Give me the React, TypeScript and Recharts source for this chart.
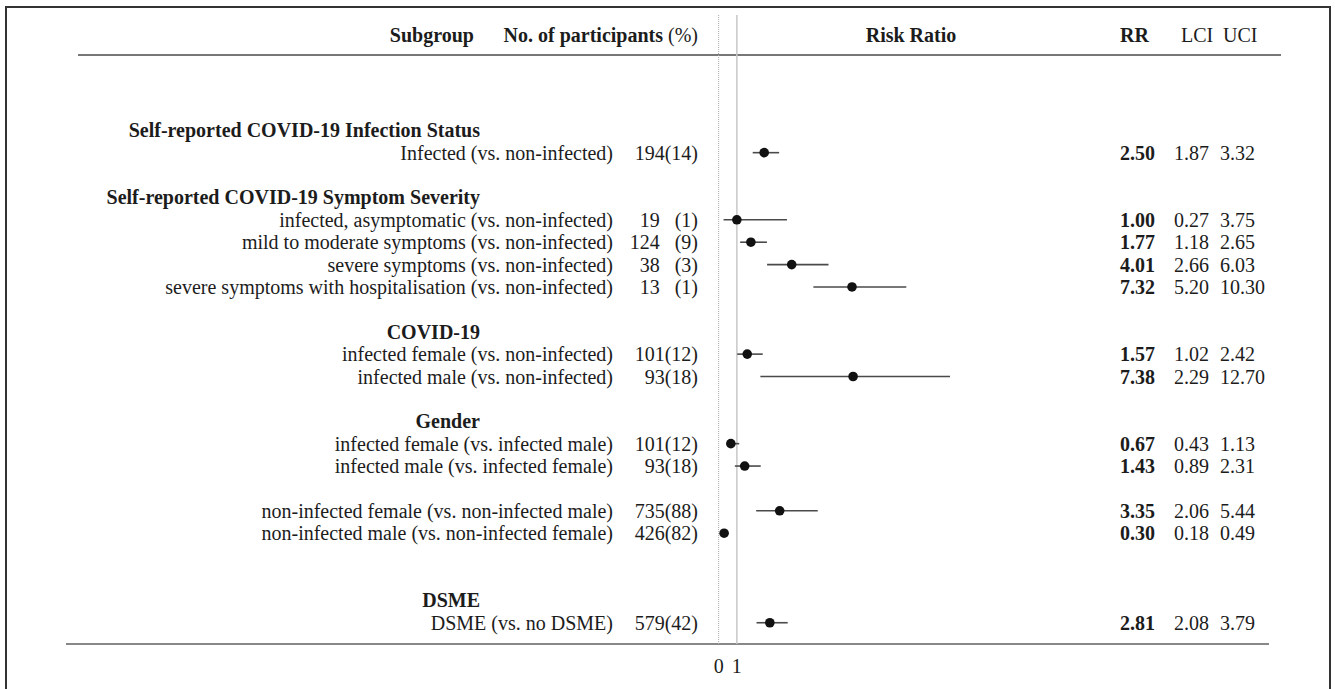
import { ScatterChart, Scatter, XAxis, YAxis, ErrorBar, ReferenceLine } from 'recharts'

const FONT = '"Liberation Serif", "Times New Roman", serif'
const INK = '#1c1c1c'

// group headings and the row each one sits on (row 0 = first line under the header rule)
const groupTitles = [
  'Self-reported COVID-19 Infection Status',
  'Self-reported COVID-19 Symptom Severity',
  'COVID-19',
  'Gender',
  'DSME',
]
const groupRows = [0, 3, 9, 13, 21]

const subgroups = [
  'Infected (vs. non-infected)',
  'infected, asymptomatic (vs. non-infected)',
  'mild to moderate symptoms (vs. non-infected)',
  'severe symptoms (vs. non-infected)',
  'severe symptoms with hospitalisation (vs. non-infected)',
  'infected female (vs. non-infected)',
  'infected male (vs. non-infected)',
  'infected female (vs. infected male)',
  'infected male (vs. infected female)',
  'non-infected female (vs. non-infected male)',
  'non-infected male (vs. non-infected female)',
  'DSME (vs. no DSME)',
]
const subgroupRows = [1, 4, 5, 6, 7, 10, 11, 14, 15, 17, 18, 22]
const participants = [194, 19, 124, 38, 13, 101, 93, 101, 93, 735, 426, 579]
const participantsPct = [14, 1, 9, 3, 1, 12, 18, 12, 18, 88, 82, 42]
const rr = [2.5, 1.0, 1.77, 4.01, 7.32, 1.57, 7.38, 0.67, 1.43, 3.35, 0.3, 2.81]
const lci = [1.87, 0.27, 1.18, 2.66, 5.2, 1.02, 2.29, 0.43, 0.89, 2.06, 0.18, 2.08]
const uci = [3.32, 3.75, 2.65, 6.03, 10.3, 2.42, 12.7, 1.13, 2.31, 5.44, 0.49, 3.79]

const xTicks = [0, 1]

const data = subgroups.map((name, i) => ({
  name,
  row: subgroupRows[i],
  rr: rr[i],
  ci: [rr[i] - lci[i], uci[i] - rr[i]],
}))

const fmtN = (i: number) =>
  `${participants[i]}${participantsPct[i] < 10 ? '\u2002\u00a0' : ''}(${participantsPct[i]})`

const textProps = { fontFamily: FONT, fontSize: 20, fill: INK }

function LabelTick({ y, payload }: any) {
  const v = payload.value
  const g = groupRows.indexOf(v)
  if (g >= 0) {
    return (
      <text x={480} y={y + 7} textAnchor="end" fontWeight="bold" {...textProps}>
        {groupTitles[g]}
      </text>
    )
  }
  const i = subgroupRows.indexOf(v)
  if (i < 0) return null
  return (
    <g>
      <text x={613} y={y + 7} textAnchor="end" {...textProps}>
        {subgroups[i]}
      </text>
      <text x={698} y={y + 7} textAnchor="end" {...textProps}>
        {fmtN(i)}
      </text>
    </g>
  )
}

function StatsTick({ y, payload }: any) {
  const i = subgroupRows.indexOf(payload.value)
  if (i < 0) return null
  return (
    <g>
      <text x={1120} y={y + 7} fontWeight="bold" {...textProps}>
        {rr[i].toFixed(2)}
      </text>
      <text x={1174} y={y + 7} {...textProps}>
        {lci[i].toFixed(2)}
      </text>
      <text x={1220} y={y + 7} {...textProps}>
        {uci[i].toFixed(2)}
      </text>
    </g>
  )
}

const head = (left: number, width: number, align: 'left' | 'right' | 'center', bold = true) => ({
  position: 'absolute' as const,
  left,
  width,
  top: 25,
  lineHeight: '20px',
  fontSize: 20,
  fontFamily: FONT,
  color: INK,
  textAlign: align,
  fontWeight: bold ? 'bold' : 'normal',
  whiteSpace: 'nowrap' as const,
})

export default function App() {
  const yDomain = [-5.15, 22.95]
  return (
    <div style={{ position: 'absolute', left: 0, top: 0, width: 1335, height: 689, overflow: 'hidden', background: '#fff' }}>
      {/* frame */}
      <div style={{ position: 'absolute', left: 5, top: 6, width: 1322, height: 700, border: '2px solid #333', borderBottom: 'none' }} />
      {/* header */}
      <div style={head(300, 174, 'right')}>Subgroup</div>
      <div style={head(480, 218, 'right')}>
        No. of participants <span style={{ fontWeight: 'normal' }}>(%)</span>
      </div>
      <div style={head(811, 200, 'center')}>Risk Ratio</div>
      <div style={head(1120, 40, 'left')}>RR</div>
      <div style={head(1181, 40, 'left', false)}>LCI</div>
      <div style={head(1223, 40, 'left', false)}>UCI</div>
      <div style={{ position: 'absolute', left: 78, top: 54, width: 1203, height: 2, background: '#777' }} />
      <div style={{ position: 'absolute', left: 66, top: 643, width: 1203, height: 2, background: '#888' }} />

      <div style={{ position: 'absolute', left: 0, top: 0 }}>
        <ScatterChart width={1335} height={689} margin={{ top: 15, right: 0, bottom: 0, left: 0 }}>
          <XAxis
            type="number"
            dataKey="rr"
            domain={[-0.2, 20]}
            ticks={xTicks}
            axisLine={false}
            tickLine={false}
            tickMargin={9}
            height={45}
            tick={{ fontFamily: FONT, fontSize: 20, fill: INK }}
          />
          <YAxis
            yAxisId="labels"
            type="number"
            dataKey="row"
            domain={yDomain}
            reversed
            allowDataOverflow
            ticks={[...groupRows, ...subgroupRows]}
            interval={0}
            width={715}
            axisLine={false}
            tickLine={false}
            tick={<LabelTick />}
          />
          <YAxis
            yAxisId="stats"
            orientation="right"
            type="number"
            dataKey="row"
            domain={yDomain}
            reversed
            allowDataOverflow
            ticks={subgroupRows}
            interval={0}
            width={252}
            axisLine={false}
            tickLine={false}
            tick={<StatsTick />}
          />
          <ReferenceLine yAxisId="labels" x={0} stroke="#aaa" strokeDasharray="1 1" />
          <ReferenceLine yAxisId="labels" x={1} stroke="#c8c8c8" strokeWidth={1.5} />
          <Scatter
            yAxisId="labels"
            data={data}
            isAnimationActive={false}
            shape={(p: any) => <circle cx={p.cx} cy={p.cy} r={4.8} fill="#111" />}
          >
            <ErrorBar dataKey="ci" direction="x" width={0} stroke="#4a4a4a" strokeWidth={1.6} />
          </Scatter>
        </ScatterChart>
      </div>
    </div>
  )
}
